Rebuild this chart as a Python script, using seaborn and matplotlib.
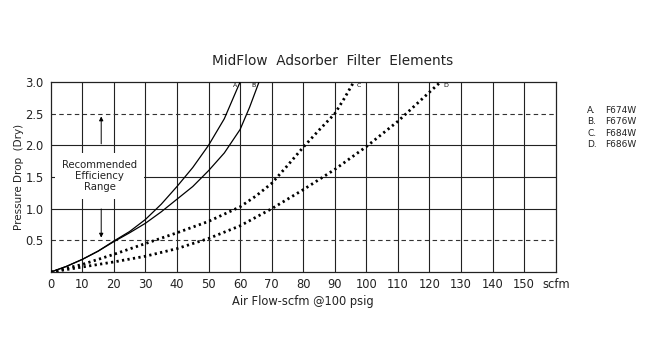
import pandas as pd
import numpy as np
import seaborn as sns
import matplotlib
matplotlib.use("Agg")
import matplotlib.pyplot as plt

# --- Data ---
flow_a = [0, 5, 10, 15, 20, 25, 30, 35, 40, 45, 50, 55, 60]
dp_a = [0, 0.09, 0.2, 0.33, 0.49, 0.64, 0.83, 1.07, 1.35, 1.65, 2.0, 2.42, 3.0]

flow_b = [0, 5, 10, 15, 20, 25, 30, 35, 40, 45, 50, 55, 60, 63, 66]
dp_b = [0, 0.09, 0.2, 0.33, 0.48, 0.62, 0.77, 0.95, 1.15, 1.35, 1.6, 1.88, 2.25, 2.6, 3.0]

flow_c = [0, 10, 20, 30, 40, 50, 60, 65, 70, 75, 80, 85, 90, 93, 96]
dp_c = [0, 0.12, 0.28, 0.45, 0.62, 0.8, 1.03, 1.2, 1.4, 1.68, 1.97, 2.24, 2.5, 2.74, 3.0]

flow_d = [0, 10, 20, 30, 40, 50, 60, 70, 80, 90, 100, 110, 120, 123.5]
dp_d = [0, 0.08, 0.16, 0.25, 0.37, 0.53, 0.73, 1.0, 1.3, 1.62, 1.98, 2.38, 2.84, 3.0]

curve_names = ["A", "B", "C", "D"]
models = ["F674W", "F676W", "F684W", "F686W"]
x_ticks = list(range(0, 170, 10))
x_labels = [str(v) for v in range(0, 160, 10)] + ["scfm"]
y_ticks = [0.5, 1.0, 1.5, 2.0, 2.5, 3.0]

curves = {"A": (flow_a, dp_a), "B": (flow_b, dp_b), "C": (flow_c, dp_c), "D": (flow_d, dp_d)}

sns.set_style("white")
plt.rcParams["font.family"] = ["DejaVu Sans"]
ink = "#222222"

fig = plt.figure(figsize=(6.5, 3.58), dpi=100)
ax = fig.add_axes([0.078, 0.24, 0.777, 0.531])

# grid
for xv in x_ticks[1:-1]:
    ax.axvline(xv, color=ink, lw=0.8, zorder=1)
for yv in [1.0, 1.5, 2.0]:
    ax.axhline(yv, color=ink, lw=0.8, zorder=1)
for yv in [0.5, 2.5]:
    ax.axhline(yv, color="#333333", lw=0.8, ls=(0, (4, 3)), zorder=1)

# curves
for name in curve_names:
    fx, dy = curves[name]
    df = pd.DataFrame({"flow": fx, "dp": dy})
    if name in ("A", "B"):
        sns.lineplot(data=df, x="flow", y="dp", ax=ax, color="black", lw=0.9, zorder=4)
    else:
        sns.lineplot(data=df, x="flow", y="dp", ax=ax, color="black", lw=2.0,
                     ls=(0, (0.8, 1.2)), zorder=4)

# curve end labels
for name, ha, dx in [("A", "right", -1.0), ("B", "right", -1.0), ("C", "left", 1.0), ("D", "left", 1.0)]:
    fx, dy = curves[name]
    ax.text(fx[-1] + dx, dy[-1] - 0.06, name, fontsize=4.5, ha=ha, va="center", color="black", zorder=5)

# recommended range annotation
ax.text(15.5, 1.52, "Recommended\nEfficiency\nRange", ha="center", va="center", fontsize=7.3,
        linespacing=1.15, color=ink, zorder=6,
        bbox=dict(facecolor="white", edgecolor="none", pad=5))
ax.annotate("", xy=(16, 2.5), xytext=(16, 1.98),
            arrowprops=dict(arrowstyle="-|>", color="black", lw=0.7, mutation_scale=6), zorder=5)
ax.annotate("", xy=(16, 0.5), xytext=(16, 1.04),
            arrowprops=dict(arrowstyle="-|>", color="black", lw=0.7, mutation_scale=6), zorder=5)

ax.set_xlim(0, 160)
ax.set_ylim(0, 3.0)
ax.set_xticks(x_ticks)
ax.set_xticklabels(x_labels, fontsize=8.3, color=ink)
ax.set_yticks(y_ticks)
ax.set_yticklabels([f"{v:.1f}" for v in y_ticks], fontsize=8.3, color=ink)
ax.tick_params(axis="x", length=0, pad=4)
ax.tick_params(axis="y", length=3, width=0.8, direction="out", pad=2)
for s in ax.spines.values():
    s.set_color(ink)
    s.set_linewidth(0.9)

ax.set_xlabel("Air Flow-scfm @100 psig", fontsize=8.3, color=ink, labelpad=3)
ax.set_ylabel("Pressure Drop  (Dry)", fontsize=7.5, color=ink, labelpad=1)
fig.text(0.512, 0.83, "MidFlow  Adsorber  Filter  Elements", ha="center", va="center",
         fontsize=9.8, color=ink)

# model list
for i, (name, model) in enumerate(zip(curve_names, models)):
    yy = 1 - (110 + i * 11.5) / 358
    fig.text(587 / 650, yy, f"{name}.", fontsize=6.5, va="center", color=ink)
    fig.text(605 / 650, yy, model, fontsize=6.5, va="center", color=ink)

fig.savefig("out.png", dpi=100, facecolor="white")
